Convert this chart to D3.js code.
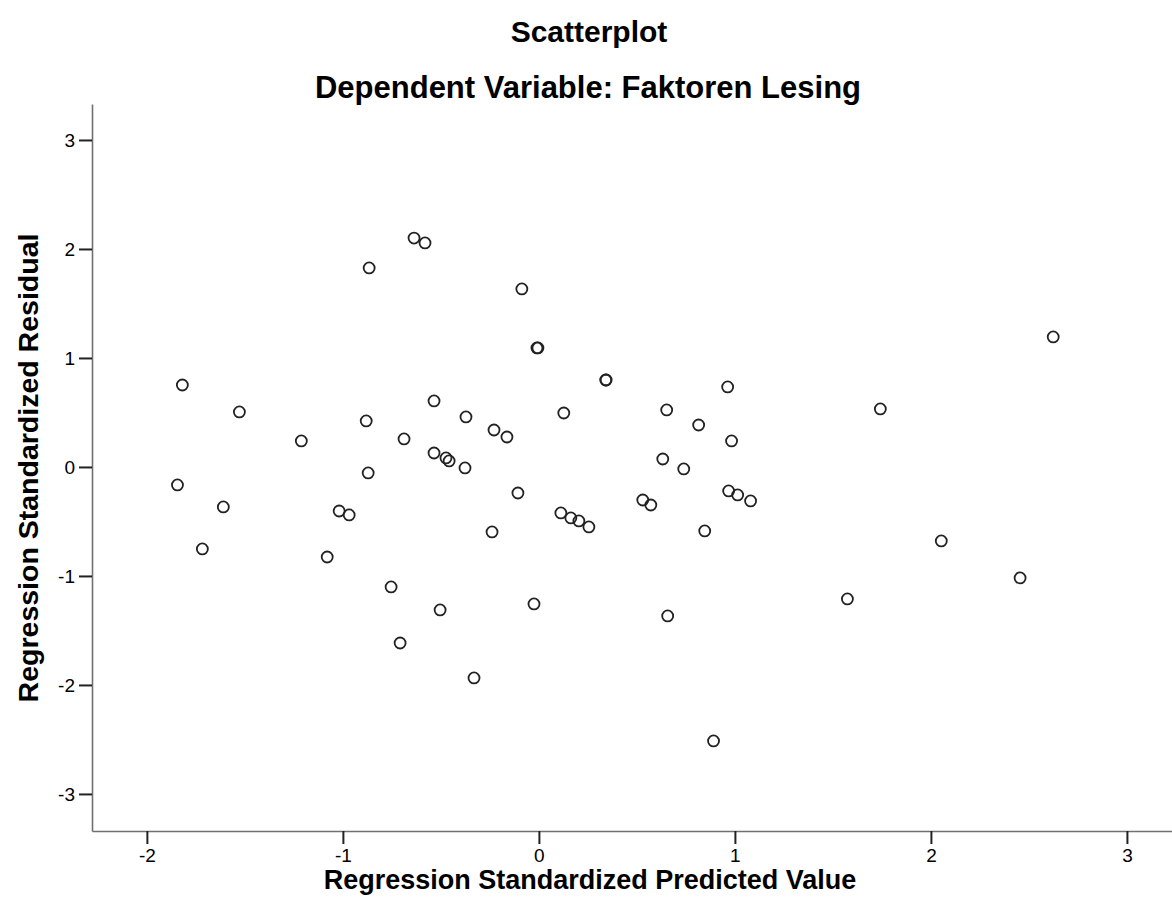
<!DOCTYPE html>
<html>
<head>
<meta charset="utf-8">
<script src="https://cdn.jsdelivr.net/npm/d3@7"></script>
<style>
  body { margin: 0; background: #fff; }
  text { font-family: "Liberation Sans", Arial, sans-serif; fill: #000; }
</style>
</head>
<body>
<svg width="1172" height="920"></svg>
<script>
// predicted (x) and residual (y)
var predicted = [
  -0.637, -0.581, -0.866, -0.087, -0.010, -0.005, -1.819, -1.528, -1.212, -0.881,
  -0.688, -0.535, -0.372, -0.229, -0.163, -0.535, -0.474, -0.458, -0.377, -0.871,
  -1.844, -0.107, -1.610, -1.717, -1.019, -0.968, -1.080, -0.754, -0.504, -0.708,
  -0.331, -0.239, -0.025, 0.341, 0.343, 0.127, 0.963, 0.652, 0.815, 0.983,
  0.632, 0.739, 0.530, 0.571, 0.968, 1.014, 1.080, 0.112, 0.163, 0.204,
  0.255, 0.846, 0.657, 0.891, 2.624, 1.742, 2.053, 2.455, 1.574
];
var residual = [
  2.100, 2.055, 1.826, 1.633, 1.092, 1.092, 0.752, 0.505, 0.239, 0.422,
  0.257, 0.606, 0.459, 0.339, 0.275, 0.128, 0.083, 0.055, -0.009, -0.055,
  -0.165, -0.239, -0.367, -0.752, -0.404, -0.440, -0.826, -1.101, -1.312, -1.615,
  -1.936, -0.596, -1.257, 0.798, 0.798, 0.495, 0.734, 0.523, 0.385, 0.239,
  0.073, -0.018, -0.303, -0.349, -0.220, -0.257, -0.312, -0.422, -0.468, -0.495,
  -0.550, -0.587, -1.367, -2.514, 1.193, 0.532, -0.679, -1.018, -1.211
];
var xTicks = [-2, -1, 0, 1, 2, 3];
var yTicks = [-3, -2, -1, 0, 1, 2, 3];

var svg = d3.select("svg");

var x = d3.scaleLinear().domain([-2.28, 3.23]).range([92, 1172]);
var y = d3.scaleLinear().domain([-3.34, 3.33]).range([831, 104]);

// titles
svg.append("text")
  .attr("x", 589).attr("y", 42)
  .attr("text-anchor", "middle")
  .style("font-size", "30px").style("font-weight", "bold")
  .text("Scatterplot");
svg.append("text")
  .attr("x", 588).attr("y", 98)
  .attr("text-anchor", "middle")
  .style("font-size", "31px").style("font-weight", "bold")
  .text("Dependent Variable: Faktoren Lesing");

// axes
var xAxis = svg.append("g")
  .attr("transform", "translate(0,831)")
  .call(d3.axisBottom(x).tickValues(xTicks).tickSize(13).tickSizeOuter(0).tickPadding(5)
    .tickFormat(d3.format("d")));
var yAxis = svg.append("g")
  .attr("transform", "translate(92,0)")
  .call(d3.axisLeft(y).tickValues(yTicks).tickSize(13).tickSizeOuter(0).tickPadding(4)
    .tickFormat(d3.format("d")));

[xAxis, yAxis].forEach(function(g) {
  g.select(".domain").attr("stroke", "#707070").attr("stroke-width", 1.6);
  g.selectAll(".tick line").attr("stroke", "#222").attr("stroke-width", 2);
  g.selectAll(".tick text")
    .attr("font-size", 19)
    .style("font-size", "19px").attr("fill", "#000");
});
// the SPSS minus is a plain hyphen
svg.selectAll(".tick text").text(function(d) { return d < 0 ? "-" + Math.abs(d) : d; });

// axis titles
svg.append("text")
  .attr("x", 590).attr("y", 889)
  .attr("text-anchor", "middle")
  .style("font-size", "27px").style("font-weight", "bold")
  .text("Regression Standardized Predicted Value");
svg.append("text")
  .attr("transform", "translate(38,468) rotate(-90)")
  .attr("text-anchor", "middle")
  .style("font-size", "28.5px").style("font-weight", "bold")
  .text("Regression Standardized Residual");

// points
var points = predicted.map(function(p, i) { return { x: p, y: residual[i] }; });
svg.append("g")
  .selectAll("circle")
  .data(points)
  .enter()
  .append("circle")
  .attr("cx", function(d) { return x(d.x); })
  .attr("cy", function(d) { return y(d.y); })
  .attr("r", 5.5)
  .attr("fill", "none")
  .attr("stroke", "#222")
  .attr("stroke-width", 1.8);
</script>
</body>
</html>
